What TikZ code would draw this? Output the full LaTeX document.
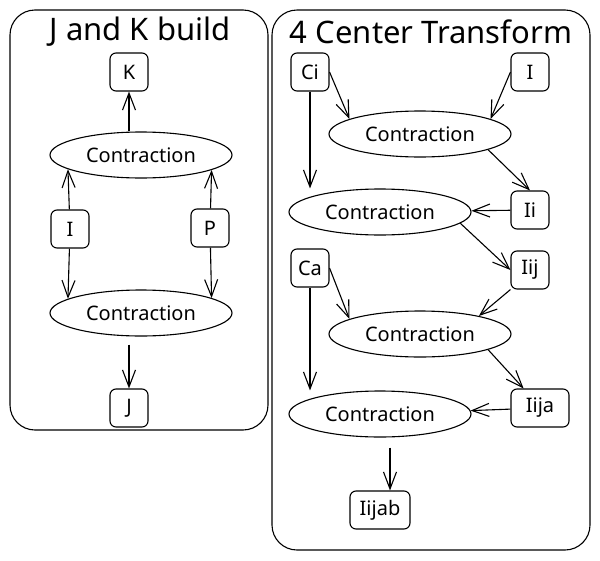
\documentclass[tikz,border=0pt]{standalone}
\usepackage{fontspec}
\setmainfont{Noto Sans}
\usepackage{tikz}
\usetikzlibrary{shapes.geometric, positioning, arrows.meta}
\tikzset{
    >={Straight Barb[length=17pt,width=13pt]},    % Open excalidraw-like arrow heads
    every path/.style={line width=1.1pt},          % Sketchy pen width
    frame/.style={draw, rounded corners=25pt},     % Outer panels
    op/.style={draw, ellipse, inner sep=0pt, minimum width=182pt, minimum height=46pt, font=\fontsize{20}{22}\selectfont},
    tensor/.style={draw, rounded corners=6pt, minimum width=38pt, minimum height=38pt, inner sep=2pt, font=\fontsize{20}{22}\selectfont},
    heading/.style={font=\fontsize{31}{33}\selectfont}
}

\begin{document}
\begin{tikzpicture}[x=1pt, y=-1pt]
            \useasboundingbox (0,0) rectangle (600,560);

            % panels
            \draw [frame] (10,10) rectangle (268,430);
            \draw [frame] (272,10) rectangle (590,550);
            \node [heading] (tJK) at (140,32) {J and K build};
            \node [heading] (tCT) at (431,32) {4 Center Transform};

            % J and K build
            \node [tensor] (K) at (129,72) {K};
            \node [op] (ctopL) at (141,155) {Contraction};
            \node [tensor] (IL) at (70,229) {I};
            \node [tensor] (P) at (210,228) {P};
            \node [op] (cbotL) at (141,313) {Contraction};
            \node [tensor] (J) at (129,408) {J};

            \draw [->] (K |- ctopL.north) -- (K);
            \draw [->] (IL) -- (ctopL.191);
            \draw [->] (P) -- (ctopL.348);
            \draw [->] (IL) -- (cbotL.169);
            \draw [->] (P) -- (cbotL.12);
            \draw [->, shorten <=8pt] (J |- cbotL.south) -- (J);

            % 4 center transform
            \node [tensor] (Ci) at (310,72) {Ci};
            \node [tensor] (IR) at (530,72) {I};
            \node [op] (c1) at (420,134) {Contraction};
            \node [tensor] (Ii) at (530,210) {Ii};
            \node [op] (c2) at (380,212) {Contraction};
            \node [tensor] (Iij) at (530,270) {Iij};
            \node [tensor] (Ca) at (310,268) {Ca};
            \node [op] (c3) at (420,334) {Contraction};
            \node [tensor, minimum width=58pt] (Iija) at (540,408) {Iija};
            \node [op] (c4) at (380,414) {Contraction};
            \node [tensor, minimum width=60pt] (Iijab) at (380,510) {Iijab};

            \draw [->] (Ci.east) -- (c1.168);
            \draw [->] (IR.west) -- (c1.12);
            \draw [->] (Ci) -- (Ci |- c2.north);
            \draw [->] (c1.347) -- (Ii.north);
            \draw [->] (Ii) -- (c2);
            \draw [->] (c2.352) -- (Iij.west);
            \draw [->] (Ca.east) -- (c3.168);
            \draw [->] (Iij.south west) -- (c3.17);
            \draw [->] (c3.347) -- (Iija.130);
            \draw [->] (Ca) -- (Ca |- c4.north);
            \draw [->] (Iija) -- (c4);
            \draw [->, shorten <=10pt] ([xshift=10pt]Iijab |- c4.south) -- ([xshift=10pt]Iijab.north);
        \end{tikzpicture}
\end{document}
